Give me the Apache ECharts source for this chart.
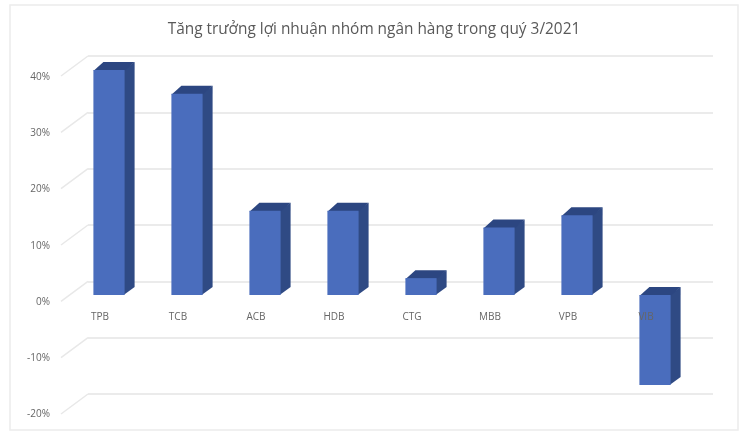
<!DOCTYPE html>
<html><head><meta charset="utf-8">
<style>html,body{margin:0;padding:0;background:#fff}#c{width:748px;height:442px}</style>
<script src="https://cdn.jsdelivr.net/npm/echarts@6/dist/echarts.min.js"></script>
</head><body><div id="c"></div>
<script>
const titleText = 'Tăng trưởng lợi nhuận nhóm ngân hàng trong quý 3/2021';
const categories = ['TPB','TCB','ACB','HDB','CTG','MBB','VPB','VIB'];
const growth = [40, 35.8, 15, 15, 3, 12, 14.2, -16];
const ticks = [-20,-10,0,10,20,30,40];
const DEPTH_X = 10, DEPTH_Y = 8, WALL_X = 27, WALL_Y = 20, BAR_RATIO = 0.4;

const chart = echarts.init(document.getElementById('c'), null, {renderer:'canvas'});
const yBase = {type:'value', min:-20, max:40, interval:10};
const hiddenParts = {axisLine:{show:false},axisTick:{show:false},axisLabel:{show:false},splitLine:{show:false}};
chart.setOption({
  animation:false,
  backgroundColor:'#fff',
  title:{text:titleText,left:'center',top:17,textStyle:{fontFamily:'Open Sans',fontSize:15.4,fontWeight:'normal',color:'#595959'}},
  graphic:[{type:'rect',z:-1,shape:{x:10,y:5,width:728,height:425},style:{fill:'#fff',stroke:'#ececec',lineWidth:1.5}}],
  grid:[
    {left:70,width:624,top:70,height:337.5},
    {left:88,width:625,top:56,height:338},
    {left:70,width:624,top:77,height:337.5},
    {left:70,width:624,top:70,height:225}
  ],
  xAxis:[
    Object.assign({gridIndex:0,type:'category',data:categories},hiddenParts),
    {gridIndex:1,type:'value',min:0,max:1,show:false},
    {gridIndex:2,type:'value',min:0,max:1,show:false},
    {gridIndex:3,type:'category',data:categories,z:6,
     axisLine:{show:false},axisTick:{show:false},splitLine:{show:false},
     axisLabel:{margin:17,padding:[0,18,0,0],interval:0,color:'#666',fontFamily:'Open Sans',fontSize:10}}
  ],
  yAxis:[
    Object.assign({gridIndex:0},yBase,hiddenParts),
    Object.assign({gridIndex:1},yBase,{
      axisLine:{show:false},axisTick:{show:false},axisLabel:{show:false},
      splitLine:{show:true,lineStyle:{color:'#e4e4e4',width:1.5}}}),
    Object.assign({gridIndex:2},yBase,{
      axisLine:{show:false},axisTick:{show:false},splitLine:{show:false},
      axisLabel:{margin:20,color:'#666',fontFamily:'Open Sans',fontSize:10,formatter:'{value}%'}}),
    {gridIndex:3,type:'value',min:0,max:1,show:false}
  ],
  series:[
    {type:'custom',xAxisIndex:1,yAxisIndex:1,z:1,silent:true,clip:false,
     data:ticks.map(t=>[0,t]),
     renderItem(params,api){
       const p=api.coord([0,api.value(1)]);
       return {type:'line',shape:{x1:p[0],y1:p[1],x2:p[0]-WALL_X,y2:p[1]+WALL_Y},
               style:{stroke:'#e8e8e8',lineWidth:1.5,fill:null}};
     }},
    {type:'custom',xAxisIndex:0,yAxisIndex:0,z:3,clip:false,
     data:categories.map((c,i)=>[i,growth[i]]),
     renderItem(params,api){
       const v=api.value(1);
       const c=api.coord([api.value(0),v]);
       const z=api.coord([api.value(0),0]);
       const w=api.size([1,0])[0]*BAR_RATIO;
       const l=c[0]-w/2,r=c[0]+w/2;
       const top=Math.min(c[1],z[1]),bot=Math.max(c[1],z[1]);
       const dark='#2f4a84',front='#4a6dbd';
       return {type:'group',children:[
         {type:'polygon',shape:{points:[[r-1,top],[r+DEPTH_X,top-DEPTH_Y],[r+DEPTH_X,bot-DEPTH_Y],[r-1,bot]]},style:{fill:dark}},
         {type:'polygon',shape:{points:[[l,top+1],[l+DEPTH_X,top-DEPTH_Y],[r+DEPTH_X,top-DEPTH_Y],[r,top+1]]},style:{fill:'#2c4681'}},
         {type:'rect',shape:{x:l,y:top,width:w,height:bot-top},style:{fill:front}}
       ]};
     }}
  ]
});
</script></body></html>
